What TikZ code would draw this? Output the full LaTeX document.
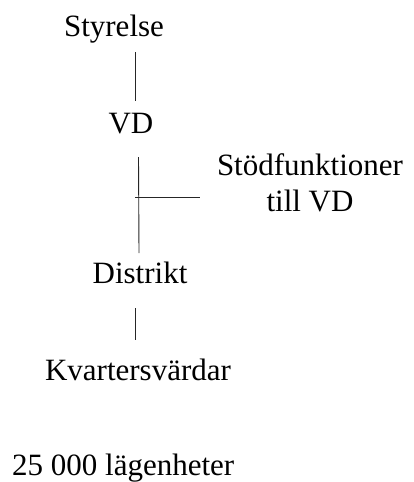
\documentclass[tikz,border=0pt]{standalone}
\usepackage{fontspec}
\setmainfont{Liberation Serif}
\begin{document}
\begin{tikzpicture}[x=1pt,y=-1pt,
  lbl/.style={inner sep=0pt,anchor=base,font=\fontsize{31}{35}\selectfont},
  conn/.style={line width=0.9pt,draw=black!85}]
\useasboundingbox (0,0) rectangle (414,482);
\node[lbl] (sty) at (114,36) {Styrelse};
\node[lbl] (vd) at (131,133) {VD};
\node[lbl] (stod) at (310,175) {Stödfunktioner};
\node[lbl] (till) at (310,211) {till VD};
\node[lbl] (dist) at (140,283) {Distrikt};
\node[lbl] (kv) at (138,380) {Kvartersvärdar};
\node[lbl,anchor=base west] (lag) at (12,475) {25 000 lägenheter};
\coordinate (a1) at (135,52);
\coordinate (a2) at (135,101);
\coordinate (b1) at (138.5,157);
\coordinate (b2) at (139,253);
\coordinate (c1) at (135,197);
\coordinate (c2) at (200,197);
\coordinate (d1) at (135,308);
\coordinate (d2) at (135,340);
\draw[conn] (a1) -- (a2);
\draw[conn] (b1) -- (b2);
\draw[conn] (c1) -- (c2);
\draw[conn] (d1) -- (d2);
\end{tikzpicture}
\end{document}
